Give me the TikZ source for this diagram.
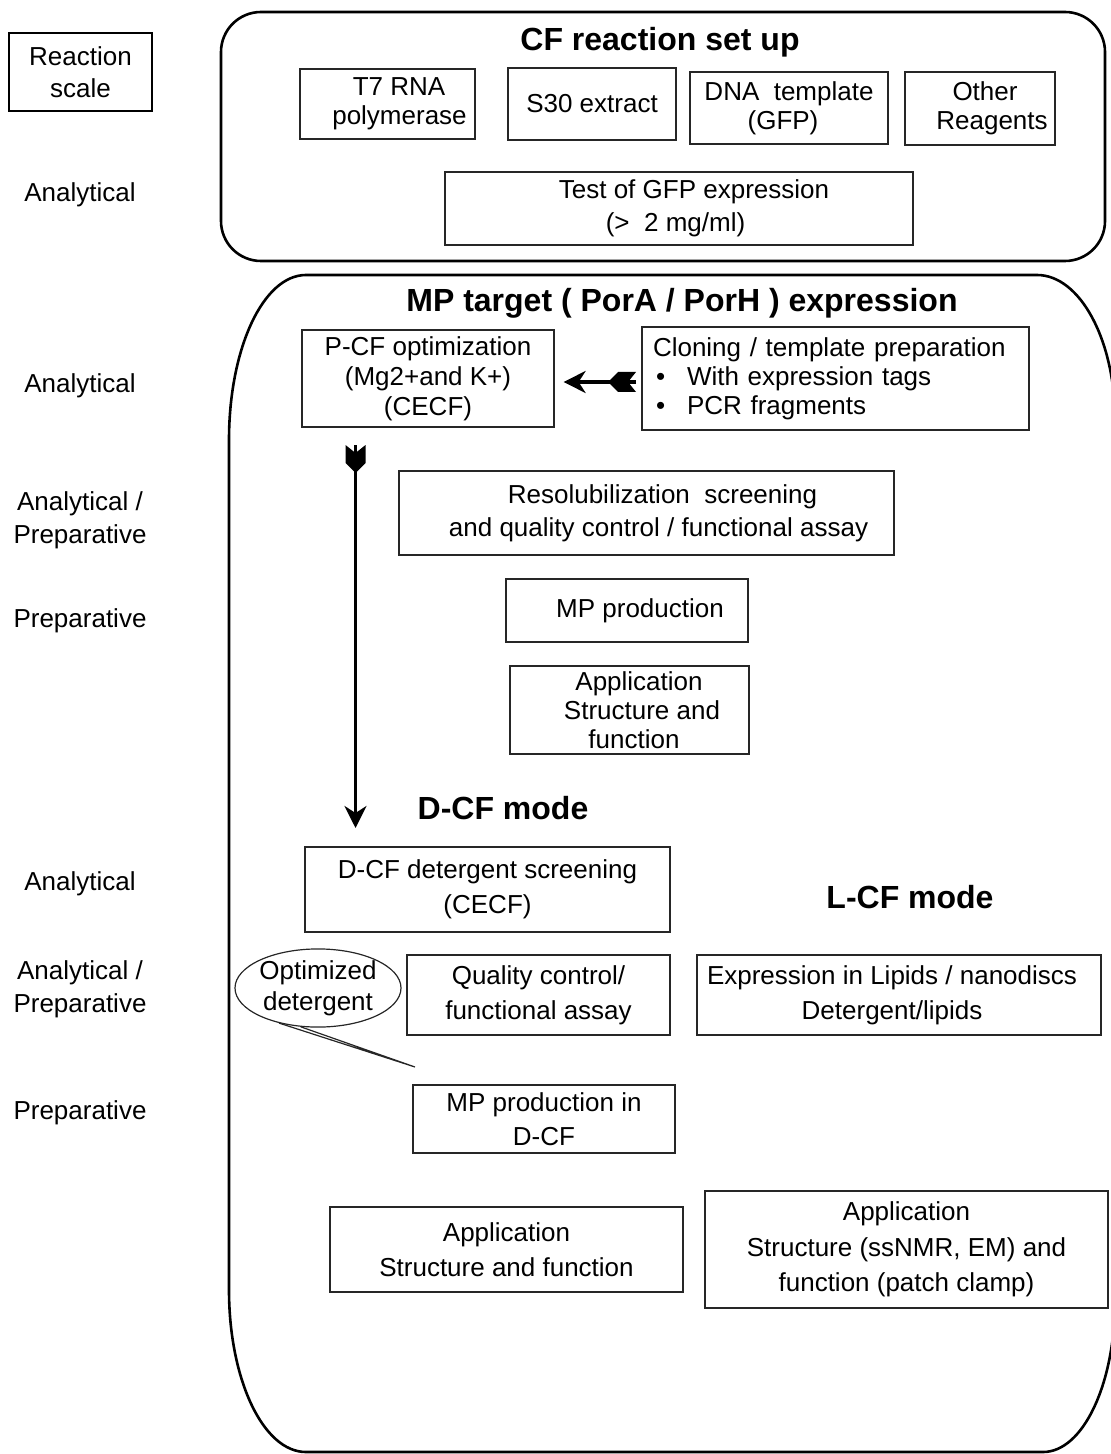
\documentclass[tikz,border=0pt]{standalone}
\usepackage{fontspec}
\setmainfont{Liberation Sans}
\usetikzlibrary{arrows.meta,shapes.geometric}

\begin{document}
\begin{tikzpicture}[x=0.5pt,y=-0.5pt]
    \tikzset{box/.style={draw=black!85, line width=0.6pt, align=center, inner sep=0pt}}
    \tikzset{lead/.style={font=\fontsize{13}{#1}\selectfont}, lead/.default=16.5pt}
    \tikzset{heading/.style={font=\fontsize{16}{19}\selectfont\bfseries}}
    \tikzset{frame/.style={draw=black, line width=1.3pt}}
    \tikzset{flow/.style={line width=1.7pt, -{Stealth[length=11pt, width=11pt, inset=3.5pt]}}}
    \tikzset{fletch/.pic={\fill (0,-10) -- (8,0) -- (0,10) -- (18,10) -- (28,0) -- (18,-10) -- cycle;}}

    \clip (0,0) rectangle (1111,1454);

    % ── REACTION SCALE ───────────────────────────────────
    \node[box, frame, lead=16pt, minimum width=71.5pt, minimum height=39pt] (scale) at (80.5,72) {Reaction\\scale};

    \foreach \ypos/\txt [count=\i] in {195/Analytical, 386/Analytical, 520/{Analytical /\\Preparative},
                                       621/Preparative, 884/Analytical, 989.5/{Analytical /\\Preparative},
                                       1113/Preparative} {
        \node[lead=16.5pt, align=center] (lab-\i) at (80,\ypos) {\txt};
    }

    % ── CF REACTION SET UP ───────────────────────────────
    \draw[frame, rounded corners=20pt] (221,12) rectangle (1105,261);
    \node[heading] (setup-title) at (660,42) {CF reaction set up};

    \node[box, lead=14.5pt, minimum width=87.5pt, minimum height=35pt] (t7) at (387.5,104) {\hspace*{11.5pt}T7 RNA\\\hspace*{12pt}polymerase};
    \node[box, lead, minimum width=84pt, minimum height=36pt] (s30) at (592,104) {S30 extract};
    \node[box, lead=14.5pt, minimum width=99pt, minimum height=36pt] (dna) at (789,108) {DNA\ \ template\\\hspace*{-6pt}(GFP)};
    \node[box, lead=14.5pt, minimum width=75pt, minimum height=36.5pt] (other) at (980,108.5) {\hspace*{5pt}Other\\\hspace*{12pt}Reagents};
    \node[box, lead=16.5pt, minimum width=234pt, minimum height=36.5pt] (gfp) at (679,208.5) {\hspace*{15pt}Test of GFP expression\\\hspace*{-3.5pt}(>\ \ 2 mg/ml)};

    % ── MP TARGET EXPRESSION ─────────────────────────────
    \draw[frame] (306,275) -- (1037,275) .. controls (1080,275) and (1115,340) .. (1115,420)
        -- (1115,1300) .. controls (1115,1384) and (1083,1452) .. (1043,1452)
        -- (306,1452) .. controls (263,1452) and (229,1379) .. (229,1290)
        -- (229,440) .. controls (229,349) and (263,275) .. (306,275) -- cycle;
    \node[heading] (mp-title) at (682,303) {MP target ( PorA / PorH ) expression};

    \node[box, lead=15pt, minimum width=126pt, minimum height=48.5pt] (pcf) at (428,378.5) {P-CF optimization\\(Mg2+and K+)\\(CECF)};
    \node[box, lead=14.5pt, align=left, inner xsep=5.5pt, text width=182.5pt, minimum height=51.5pt] (cloning) at (835.5,378.5)
        {Cloning / template preparation\\
         \hspace*{1.5pt}\makebox[15.5pt][l]{\textbullet}With expression tags\\
         \hspace*{1.5pt}\makebox[15.5pt][l]{\textbullet}PCR fragments};
    \node[box, lead=16.5pt, minimum width=247.5pt, minimum height=42pt] (resol) at (646.5,513) {\hspace*{16pt}Resolubilization\ \ screening\\\hspace*{12pt}and quality control / functional assay};
    \node[box, lead, minimum width=121pt, minimum height=31.5pt] (prod) at (627,610.5) {\hspace*{13pt}MP production};
    \node[box, lead=14.5pt, minimum width=119.5pt, minimum height=44pt] (app-a) at (629.5,710) {\hspace*{9.5pt}Application\\\hspace*{12.5pt}Structure and\\\hspace*{4.5pt}function};

    % pfeile
    \coordinate (clone-tail) at (636,382);
    \draw[flow, shorten >=4.5pt] (clone-tail) -- (pcf.east |- clone-tail) pic[pos=0, sloped, allow upside down] {fletch};
    \coordinate (down-top) at (355.5,445);
    \coordinate (down-end) at (355.5,828);
    \draw[flow] (down-top) -- (down-end) pic[pos=0, sloped, allow upside down] {fletch};

    % ── D-CF / L-CF MODE ─────────────────────────────────
    \node[heading] (dcf-title) at (503,808) {D-CF mode};
    \node[heading] (lcf-title) at (910,897) {L-CF mode};

    \node[box, lead=17.5pt, minimum width=182.5pt, minimum height=42.5pt] (dcf-screen) at (487.5,889.5) {D-CF detergent screening\\(CECF)};
    \node[box, lead=17.5pt, minimum width=131.5pt, minimum height=40pt] (dcf-qc) at (538.5,995) {Quality control/\\functional assay};
    \node[box, lead=17.5pt, minimum width=202pt, minimum height=40pt] (lipids) at (899,995) {\hspace*{-7pt}Expression in Lipids / nanodiscs\\\hspace*{-7pt}Detergent/lipids};
    \node[box, lead=17pt, minimum width=131pt, minimum height=34pt] (dcf-prod) at (544,1119) {MP production in\\D-CF};
    \node[box, lead=17.5pt, minimum width=176.5pt, minimum height=42.5pt] (app-b) at (506.5,1249.5) {Application\\Structure and function};
    \node[box, lead=17.75pt, minimum width=201.5pt, minimum height=58.5pt] (app-c) at (906.5,1249.5) {Application\\Structure (ssNMR, EM) and\\function (patch clamp)};

    % sprechblase
    \node[ellipse, draw=black!85, line width=0.6pt, lead=15.5pt, align=center, inner sep=0pt,
          minimum width=83pt, minimum height=38pt] (opt) at (318,988) {Optimized\\detergent};
    \coordinate (opt-tip) at (415,1067);
    \draw[black!85, line width=0.6pt] (opt.222) -- (opt-tip) -- (opt.246);

\end{tikzpicture}
\end{document}
